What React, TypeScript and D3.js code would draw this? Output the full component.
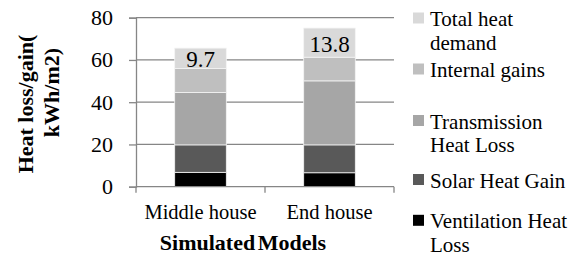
import { useEffect, useRef } from 'react';
import * as d3 from 'd3';

const categories = ['Middle house', 'End house'];
const seriesNames = [
  'Ventilation Heat Loss',
  'Solar Heat Gain',
  'Transmission Heat Loss',
  'Internal gains',
  'Total heat demand',
];
const ventilation = [6.8, 6.6];
const solar = [13.0, 13.2];
const transmission = [24.8, 30.3];
const internal = [11.3, 11.2];
const totalDemand = [9.7, 13.8];
const yTicks = [0, 20, 40, 60, 80];

const colors = ['#000000', '#595959', '#a6a6a6', '#bfbfbf', '#d9d9d9'];
// legend is drawn top-down (reverse of stacking), each entry may wrap
const legendLines = [
  ['Total heat', 'demand'],
  ['Internal gains'],
  ['Transmission', 'Heat Loss'],
  ['Solar Heat Gain'],
  ['Ventilation Heat', 'Loss'],
];
const legendBaselines = [[26, 49.5], [77], [128.5, 151.7], [187.5], [228.3, 251.6]];

const FONT = 'Liberation Serif, Tinos, DejaVu Serif, serif';

function App() {
  const svgRef = useRef<SVGSVGElement>(null);

  useEffect(() => {
    if (svgRef.current === null) return;
    const svg = d3.select(svgRef.current);
    svg.selectAll('*').remove();

    const margin = { left: 136, top: 17.7, right: 182, bottom: 69.3 };
    const width = 576;
    const height = 256;
    const gw = width - margin.left - margin.right;
    const gh = height - margin.top - margin.bottom;

    const table = categories.map((c, i) => ({
      name: c,
      s0: ventilation[i],
      s1: solar[i],
      s2: transmission[i],
      s3: internal[i],
      s4: totalDemand[i],
    }));
    const keys = ['s0', 's1', 's2', 's3', 's4'];
    const stacked = d3.stack<any>().keys(keys)(table);

    const x = d3.scaleBand().domain(categories).range([0, gw]).paddingInner(0.6).paddingOuter(0.3);
    const y = d3.scaleLinear().domain([0, 80]).range([gh, 0]);

    const g = svg.append('g').attr('transform', `translate(${margin.left},${margin.top})`);

    // gridlines
    g.selectAll('line.grid')
      .data(yTicks.slice(1))
      .enter()
      .append('line')
      .attr('x1', 0)
      .attr('x2', gw)
      .attr('y1', (d) => y(d))
      .attr('y2', (d) => y(d))
      .attr('stroke', '#868686')
      .attr('stroke-width', 1.3);

    // y axis
    const yAxis = g.append('g').call(d3.axisLeft(y).tickValues(yTicks).tickSize(7).tickPadding(16));
    yAxis.attr('font-family', null).attr('font-size', null);
    yAxis.select('.domain').attr('stroke', '#868686').attr('stroke-width', 1.3);
    yAxis.selectAll('line').attr('stroke', '#868686').attr('stroke-width', 1.3);
    yAxis
      .selectAll('text')
      .style('font-family', FONT)
      .style('font-size', '22px')
      .attr('fill', '#000');

    // bars
    g.selectAll('g.layer')
      .data(stacked)
      .enter()
      .append('g')
      .attr('fill', (_d, i) => colors[i])
      .selectAll('rect')
      .data((d) => d)
      .enter()
      .append('rect')
      .attr('x', (d: any) => x(d.data.name) || 0)
      .attr('width', x.bandwidth())
      .attr('y', (d: any) => y(d[1]))
      .attr('height', (d: any) => y(d[0]) - y(d[1]))
      .attr('stroke', '#f4f4f4')
      .attr('stroke-width', 0.8);

    // x axis
    const xAxis = g.append('g').attr('transform', `translate(0,${gh})`);
    xAxis
      .append('line')
      .attr('x1', 0)
      .attr('x2', gw)
      .attr('stroke', '#868686')
      .attr('stroke-width', 1.3);
    xAxis
      .selectAll('line.tick')
      .data([0, gw / 2, gw])
      .enter()
      .append('line')
      .attr('x1', (d) => d)
      .attr('x2', (d) => d)
      .attr('y1', 0)
      .attr('y2', 6)
      .attr('stroke', '#868686')
      .attr('stroke-width', 1.3);
    xAxis
      .selectAll('text')
      .data(categories)
      .enter()
      .append('text')
      .attr('x', (d) => (x(d) || 0) + x.bandwidth() / 2)
      .attr('y', 32.5)
      .attr('text-anchor', 'middle')
      .style('font-family', FONT)
      .style('font-size', '20.5px')
      .text((d) => d);

    // value labels on top segment
    const top = stacked[stacked.length - 1];
    g.selectAll('text.val')
      .data(top)
      .enter()
      .append('text')
      .attr('x', (d: any) => (x(d.data.name) || 0) + x.bandwidth() / 2)
      .attr('y', (d: any) => (y(d[0]) + y(d[1])) / 2 + 9)
      .attr('text-anchor', 'middle')
      .style('font-family', FONT)
      .style('font-size', '23px')
      .text((d: any) => d3.format('.1f')(d[1] - d[0]));

    // axis titles
    svg
      .append('text')
      .attr('x', 243)
      .attr('y', 250)
      .attr('text-anchor', 'middle')
      .style('font-family', FONT)
      .style('font-weight', 'bold')
      .style('font-size', '22px')
      .attr('word-spacing', -3)
      .text('Simulated Models');

    svg
      .append('text')
      .attr('transform', 'translate(33,104) rotate(-90)')
      .attr('text-anchor', 'middle')
      .style('font-family', FONT)
      .style('font-weight', 'bold')
      .style('font-size', '22px')
      .text('Heat loss/gain(');
    svg
      .append('text')
      .attr('transform', 'translate(59,92.5) rotate(-90)')
      .attr('text-anchor', 'middle')
      .style('font-family', FONT)
      .style('font-weight', 'bold')
      .style('font-size', '22px')
      .text('kWh/m2)');

    // legend
    const legend = svg.append('g');
    const items = legend
      .selectAll('g')
      .data(seriesNames.map((_n, i) => seriesNames.length - 1 - i))
      .enter()
      .append('g');
    items
      .append('rect')
      .attr('x', 413)
      .attr('y', (_d, i) => legendBaselines[i][0] - 13.5)
      .attr('width', 11)
      .attr('height', 11)
      .attr('fill', (d) => colors[d]);
    items
      .append('text')
      .style('font-family', FONT)
      .style('font-size', '21px')
      .selectAll('tspan')
      .data((_d, i) => legendLines[i].map((t, j) => ({ t, y: legendBaselines[i][j] })))
      .enter()
      .append('tspan')
      .attr('x', 430)
      .attr('y', (d) => d.y)
      .text((d) => d.t);
  }, [svgRef]);

  return (
    <svg
      ref={svgRef}
      width={576}
      height={256}
      style={{ position: 'absolute', left: 0, top: 0, background: '#fff' }}
    />
  );
}

export default App;
